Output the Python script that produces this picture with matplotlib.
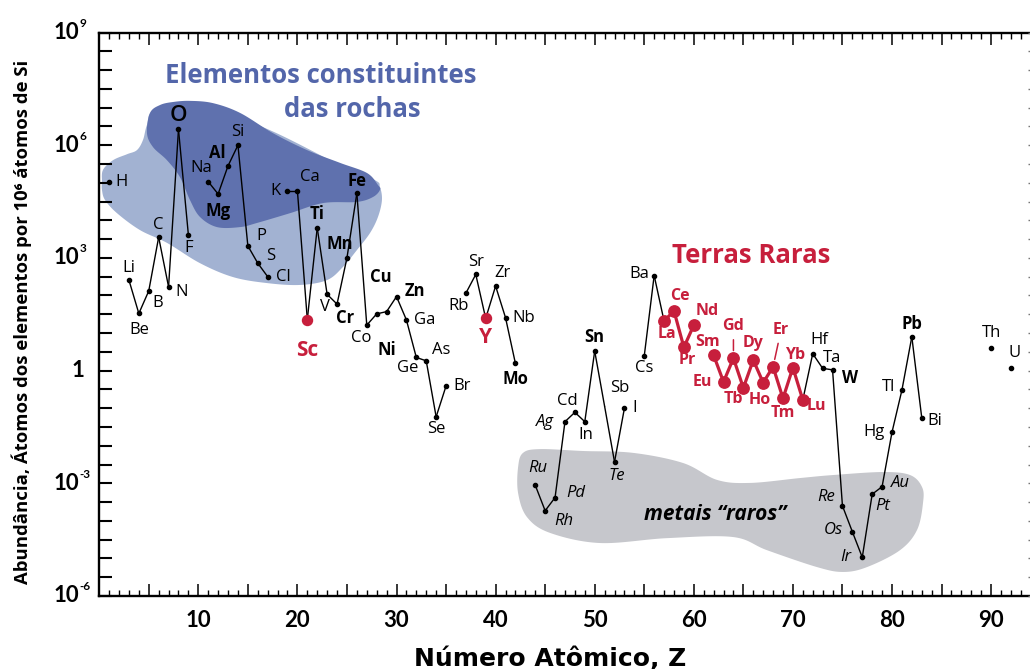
import numpy as np
import matplotlib
matplotlib.use("Agg")
import matplotlib.pyplot as plt
import matplotlib.transforms as mtransforms
from matplotlib.patches import Polygon
from matplotlib.ticker import FixedLocator, NullLocator, MultipleLocator, FuncFormatter, NullFormatter

# ---------------------------------------------------------------- data
symbols = ["H", "Li", "Be", "B", "C", "N", "O", "F",
           "Na", "Mg", "Al", "Si", "P", "S", "Cl",
           "K", "Ca", "Sc", "Ti", "V", "Cr", "Mn", "Fe", "Co", "Ni", "Cu", "Zn",
           "Ga", "Ge", "As", "Se", "Br",
           "Rb", "Sr", "Y", "Zr", "Nb", "Mo",
           "Ru", "Rh", "Pd", "Ag", "Cd", "In", "Sn", "Sb", "Te", "I",
           "Cs", "Ba", "La", "Ce", "Pr", "Nd",
           "Sm", "Eu", "Gd", "Tb", "Dy", "Ho", "Er", "Tm", "Yb", "Lu",
           "Hf", "Ta", "W", "Re", "Os", "Ir", "Pt", "Au", "Hg", "Tl", "Pb", "Bi",
           "Th", "U"]
atomic_number = [1, 3, 4, 5, 6, 7, 8, 9,
                 11, 12, 13, 14, 15, 16, 17,
                 19, 20, 21, 22, 23, 24, 25, 26, 27, 28, 29, 30,
                 31, 32, 33, 34, 35,
                 37, 38, 39, 40, 41, 42,
                 44, 45, 46, 47, 48, 49, 50, 51, 52, 53,
                 55, 56, 57, 58, 59, 60,
                 62, 63, 64, 65, 66, 67, 68, 69, 70, 71,
                 72, 73, 74, 75, 76, 77, 78, 79, 80, 81, 82, 83,
                 90, 92]
# log10 of atoms per 10^6 atoms of Si
log_abundance = [5.01, 2.41, 1.52, 2.12, 3.55, 2.23, 6.42, 3.61,
                 5.03, 4.70, 5.45, 6.00, 3.32, 2.86, 2.50,
                 4.79, 4.79, 1.36, 3.80, 2.03, 1.77, 3.00, 4.72, 1.21, 1.51, 1.57, 1.97,
                 1.35, 0.35, 0.26, -1.23, -0.41,
                 2.06, 2.56, 1.39, 2.25, 1.41, 0.19,
                 -3.05, -3.73, -3.38, -1.36, -1.11, -1.36, 0.52, -0.95, -2.43, -1.00,
                 0.39, 2.53, 1.32, 1.59, 0.62, 1.21,
                 0.41, -0.30, 0.33, -0.46, 0.28, -0.32, 0.10, -0.74, 0.08, -0.78,
                 0.45, 0.06, 0.02, -3.60, -4.29, -4.97, -3.29, -3.09, -1.64, -0.52, 0.90, -1.25,
                 0.61, 0.06]

rare_earths = ["La", "Ce", "Pr", "Nd", "Sm", "Eu", "Gd", "Tb", "Dy",
               "Ho", "Er", "Tm", "Yb", "Lu"]
red_singles = ["Sc", "Y"]
hidden_markers = ["Sb"]

bold_symbols = ["Al", "Mg", "Ti", "Cr", "Mn", "Fe", "Ni", "Cu", "Zn", "Mo", "Sn", "W", "Pb"]
italic_symbols = ["Ru", "Rh", "Pd", "Ag", "Te", "Re", "Os", "Ir", "Pt", "Au"]

x_ticklabels = ["10", "20", "30", "40", "50", "60", "70", "80", "90"]
y_tick_exponents = [9, 6, 3, 0, -3, -6]

# outlines of the shaded groups, in (Z, log10 abundance)
rock_outer_z = [0.28, 0.38, 1.39, 2.81, 3.81, 4.42, 4.82, 5.63, 10.17, 17.23, 24.30, 27.82,
                28.33, 28.53, 28.13, 27.32, 26.01, 24.60, 22.99, 20.26, 16.93, 13.50,
                10.17, 6.84, 4.12, 1.80, 0.59, 0.28]
rock_outer_log = [5.02, 5.34, 5.60, 5.76, 5.87, 6.14, 6.54, 6.94, 7.10, 6.40, 5.47, 5.07,
                  4.89, 4.54, 4.09, 3.66, 3.21, 2.76, 2.41, 2.28, 2.33, 2.49,
                  2.86, 3.40, 3.74, 4.19, 4.54, 4.81]
rock_inner_z = [5.13, 6.14, 7.45, 9.16, 11.48, 14.21, 17.54, 20.97, 24.30, 27.02, 28.13,
                28.33, 27.62, 26.01, 22.59, 19.25, 15.92, 14.21, 11.89, 10.17, 9.16,
                8.15, 6.84, 5.43, 4.82]
rock_inner_log = [6.86, 7.07, 7.15, 7.18, 7.12, 6.86, 6.32, 5.87, 5.53, 5.26, 4.94,
                  4.81, 4.62, 4.49, 4.46, 4.19, 3.93, 3.82, 3.82, 4.09, 4.54,
                  5.15, 5.60, 5.95, 6.32]
rare_metal_z = [42.27, 42.77, 44.49, 48.82, 53.87, 58.92, 62.35, 65.68, 70.72, 74.05, 79.09,
                81.82, 83.03, 83.13, 82.53, 80.81, 77.48, 75.06, 72.43, 67.38, 63.95,
                57.29, 50.53, 45.49, 43.17, 42.27]
rare_metal_log = [-2.57, -2.19, -2.09, -2.14, -2.19, -2.46, -2.91, -2.99, -2.86, -2.78, -2.70,
                  -2.78, -3.10, -3.52, -4.24, -4.78, -5.23, -5.36, -5.23, -4.78, -4.43,
                  -4.46, -4.59, -4.32, -3.90, -3.26]

# ---------------------------------------------------------------- style
RED = "#c71f3c"
BLUE_TEXT = "#5366aa"
LIGHT_BLUE = "#a2b2d2"
DARK_BLUE = "#5f71ae"
GREY = "#c6c7cc"
LABEL_FONT = ["Open Sans", "DejaVu Sans"]
TICK_FONT = ["Lato", "DejaVu Sans"]

# label offsets in pixels (dx right, dy up) from each point
label_offset = {
    "H": (12, 0), "Li": (0, 12), "Be": (0, -17), "B": (9, -12), "C": (0, 12),
    "N": (13, -5), "O": (0, 14), "F": (0, -13), "Na": (-7, 14), "Al": (-11, 13),
    "Mg": (0, -17), "Si": (0, 13), "P": (14, 10), "S": (13, 7), "Cl": (16, 0),
    "K": (-12, 0), "Ca": (12, 14), "Sc": (0, -31), "Ti": (0, 14), "V": (-2, -13),
    "Cr": (8, -14), "Mn": (-7, 14), "Fe": (0, 12), "Co": (-6, -13), "Ni": (10, -36),
    "Cu": (-6, 35), "Zn": (18, 6), "Ga": (18, 0), "Ge": (-9, -11), "As": (15, 11),
    "Se": (0, -12), "Br": (16, 0), "Rb": (-7, -13), "Sr": (0, 12), "Y": (0, -19),
    "Zr": (7, 13), "Nb": (18, 0), "Mo": (0, -16), "Ru": (3, 17), "Rh": (19, -10),
    "Pd": (21, 5), "Ag": (-20, 0), "Cd": (-8, 11), "In": (1, -13), "Sn": (0, 14),
    "Sb": (15, 18), "Te": (2, -14), "I": (10, 0), "Cs": (0, -12), "Ba": (-15, 2),
    "La": (3, -13), "Ce": (6, 15), "Pr": (3, -13), "Nd": (13, 14), "Sm": (-6, 13),
    "Eu": (-21, 0), "Gd": (0, 32), "Tb": (-10, -11), "Dy": (0, 17), "Ho": (-3, -17),
    "Er": (8, 37), "Tm": (0, -15), "Yb": (2, 13), "Lu": (14, -6), "Hf": (7, 14),
    "Ta": (9, 10), "W": (18, -8), "Re": (-16, 9), "Os": (-19, 2), "Ir": (-16, 0),
    "Pt": (11, -12), "Au": (18, 4), "Hg": (-18, 0), "Tl": (-13, 3), "Pb": (0, 13),
    "Bi": (13, -3), "Th": (0, 15), "U": (4, 15),
}
leader_symbols = ["Gd", "Er"]


def smooth_closed(xs, ys, n=24):
    """Closed Catmull-Rom curve through the given vertices."""
    P = np.column_stack([xs, ys]).astype(float)
    m = len(P)
    t = np.linspace(0, 1, n, endpoint=False)[:, None]
    parts = []
    for i in range(m):
        p0, p1, p2, p3 = P[i - 1], P[i], P[(i + 1) % m], P[(i + 2) % m]
        parts.append(0.5 * (2 * p1 + (-p0 + p2) * t
                            + (2 * p0 - 5 * p1 + 4 * p2 - p3) * t ** 2
                            + (-p0 + 3 * p1 - 3 * p2 + p3) * t ** 3))
    pts = np.vstack(parts)
    pts[:, 1] = 10 ** pts[:, 1]
    return pts


# ---------------------------------------------------------------- figure
W, H = 1030, 669
fig = plt.figure(figsize=(W / 100, H / 100), dpi=100)
px_left, px_right = 99.2, 99.2 + 94 * 9.91
px_top, px_bottom = 32.5, 596.0
ax = fig.add_axes([px_left / W, 1 - px_bottom / H,
                   (px_right - px_left) / W, (px_bottom - px_top) / H])
ax.set_xlim(0, 94)
ax.set_yscale("log")
ax.set_ylim(1e-6, 1e9)

# shaded groups
ax.add_patch(Polygon(smooth_closed(rock_outer_z, rock_outer_log), closed=True,
                     facecolor=LIGHT_BLUE, edgecolor="none", zorder=0))
ax.add_patch(Polygon(smooth_closed(rock_inner_z, rock_inner_log), closed=True,
                     facecolor=DARK_BLUE, edgecolor="none", zorder=0.5))
ax.add_patch(Polygon(smooth_closed(rare_metal_z, rare_metal_log), closed=True,
                     facecolor=GREY, edgecolor="none", zorder=0))

z = np.array(atomic_number)
val = 10 ** np.array(log_abundance)

# connecting lines between neighbouring elements
for i in range(len(z) - 1):
    if z[i + 1] - z[i] != 1:
        continue
    both_ree = symbols[i] in rare_earths and symbols[i + 1] in rare_earths
    ax.plot(z[i:i + 2], val[i:i + 2],
            color=RED if both_ree else "black",
            lw=2.3 if both_ree else 1.0,
            solid_capstyle="round", zorder=2)

# markers
for s, zi, vi in zip(symbols, z, val):
    if s in hidden_markers:
        continue
    if s in rare_earths:
        ax.plot(zi, vi, "o", ms=8.2, color=RED, mec=RED, zorder=3)
    elif s in red_singles:
        ax.plot(zi, vi, "o", ms=7.2, color=RED, mec=RED, zorder=3)
    else:
        ax.plot(zi, vi, "o", ms=3.0, color="black", zorder=3)

# element labels
for s, zi, vi in zip(symbols, z, val):
    dx, dy = label_offset[s]
    kw = dict(fontsize=12, color="black", fontweight="normal", fontstyle="normal")
    if s in bold_symbols:
        kw.update(fontweight="bold")
    if s in italic_symbols:
        kw.update(fontstyle="italic")
    if s == "O":
        kw.update(fontsize=16, fontweight="semibold")
    if s in rare_earths:
        kw.update(color=RED, fontweight="bold", fontsize=11.5)
    if s in red_singles:
        kw.update(color=RED, fontweight="bold", fontsize=15)
    arrow = None
    if s in leader_symbols:
        arrow = dict(arrowstyle="-", color=RED, lw=1.1, shrinkA=2, shrinkB=5.5)
    ax.annotate(s, (zi, vi), xytext=(dx, dy), textcoords="offset pixels",
                ha="center", va="center", family=LABEL_FONT, zorder=4,
                arrowprops=arrow, **kw)

# group titles
ax.text(22.4, 10 ** 7.65, "Elementos constituintes", ha="center", va="baseline",
        fontsize=18.5, fontweight="bold", color=BLUE_TEXT, family=LABEL_FONT)
ax.text(25.5, 10 ** 6.75, "das rochas", ha="center", va="baseline",
        fontsize=18.5, fontweight="bold", color=BLUE_TEXT, family=LABEL_FONT)
ax.text(65.8, 10 ** 2.86, "Terras Raras", ha="center", va="baseline",
        fontsize=18.5, fontweight="bold", color=RED, family=LABEL_FONT)
ax.text(62.2, 10 ** -3.82, "metais \u201craros\u201d", ha="center", va="center",
        fontsize=15, fontweight="bold", fontstyle="italic", color="black",
        family=LABEL_FONT)

# ---------------------------------------------------------------- axes
for side in ("left", "top", "bottom"):
    ax.spines[side].set_linewidth(1.7)
ax.spines["right"].set_visible(False)

ax.xaxis.set_major_locator(MultipleLocator(5))
ax.xaxis.set_minor_locator(MultipleLocator(1))
ax.xaxis.set_major_formatter(FuncFormatter(
    lambda v, p: x_ticklabels[int(round(v / 10)) - 1]
    if (abs(v % 10) < 1e-6 and 10 <= v <= 90) else ""))
ax.tick_params(axis="x", which="major", direction="in", length=8.5, width=1.1,
               top=True, bottom=True, pad=10)
ax.tick_params(axis="x", which="minor", direction="in", length=4.5, width=1.0,
               top=True, bottom=True)
for lab in ax.get_xticklabels():
    lab.set_fontfamily(TICK_FONT)
    lab.set_fontweight("bold")
    lab.set_fontsize(16)

half_decades = 10 ** np.arange(-6, 9.01, 0.5)
ax.yaxis.set_major_locator(FixedLocator(half_decades))
ax.yaxis.set_minor_locator(NullLocator())
ax.yaxis.set_major_formatter(NullFormatter())
ax.yaxis.set_minor_formatter(NullFormatter())
ax.tick_params(axis="y", which="major", direction="in", length=9, width=1.5,
               left=True, right=False)

# short tick marks on the right-hand side
axr = ax.twinx()
axr.set_yscale("log")
axr.set_ylim(ax.get_ylim())
axr.yaxis.set_major_locator(FixedLocator(half_decades))
axr.yaxis.set_minor_locator(NullLocator())
axr.yaxis.set_major_formatter(NullFormatter())
axr.yaxis.set_minor_formatter(NullFormatter())
axr.tick_params(axis="y", direction="in", length=2.5, width=1.0, colors="#777777")
for sp in axr.spines.values():
    sp.set_visible(False)

# y tick labels: 10 with a raised exponent
lab_tf = mtransforms.blended_transform_factory(fig.transFigure, ax.transData)
for e in y_tick_exponents:
    if e == 0:
        ax.text(77.5 / W, 1.0, "1", transform=lab_tf, ha="center", va="center",
                fontsize=16, fontweight="bold", family=TICK_FONT, clip_on=False)
        continue
    ax.text(79.0 / W, 10.0 ** e, "10", transform=lab_tf, ha="right", va="center",
            fontsize=16, fontweight="bold", family=TICK_FONT, clip_on=False)
    ax.text(79.8 / W, 10.0 ** (e + 0.24), str(e), transform=lab_tf, ha="left",
            va="center", fontsize=8.5, fontweight="bold", family=TICK_FONT,
            clip_on=False)

# axis titles
fig.text(550 / W, 1 - 666 / H, "Número Atômico, Z", ha="center", va="baseline",
         fontsize=18, fontweight="bold", family=["DejaVu Sans"])
fig.text(22 / W, 1 - 322 / H,
         "Abundância, Átomos dos elementos por 10\u2076 átomos de Si",
         rotation=90, ha="center", va="center", fontsize=13.3, fontweight="bold",
         family=["Open Sans", "DejaVu Sans"])

fig.savefig("out.png", dpi=100)
